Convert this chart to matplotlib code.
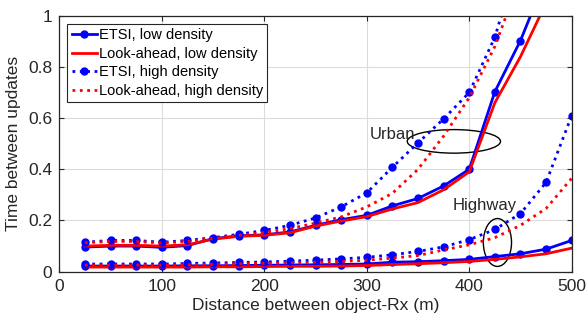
import numpy as np
import matplotlib.pyplot as plt
from matplotlib.patches import Ellipse

plt.rcParams['font.family'] = ['Liberation Sans', 'DejaVu Sans']

dist = [25, 50, 75, 100, 125, 150, 175, 200, 225, 250,
        275, 300, 325, 350, 375, 400, 425, 450, 475, 500]

# urban
etsi_low_u = [0.096, 0.100, 0.100, 0.095, 0.102, 0.129, 0.140, 0.144, 0.155, 0.181,
              0.203, 0.220, 0.257, 0.286, 0.335, 0.400, 0.703, 0.903, 1.15, 1.4]
la_low_u = [0.100, 0.103, 0.103, 0.100, 0.105, 0.127, 0.138, 0.142, 0.152, 0.178,
            0.198, 0.215, 0.245, 0.270, 0.320, 0.390, 0.660, 0.840, 1.05, 1.3]
etsi_high_u = [0.115, 0.122, 0.122, 0.115, 0.122, 0.133, 0.146, 0.161, 0.181, 0.210,
               0.253, 0.308, 0.408, 0.503, 0.597, 0.700, 0.916, 1.25, 1.6, 2.0]
la_high_u = [0.113, 0.118, 0.118, 0.112, 0.118, 0.130, 0.142, 0.153, 0.168, 0.190,
             0.214, 0.253, 0.306, 0.400, 0.530, 0.680, 0.880, 1.15, 1.5, 1.9]

# highway
etsi_low_h = [0.022, 0.022, 0.022, 0.022, 0.023, 0.023, 0.024, 0.025, 0.026, 0.027,
              0.028, 0.030, 0.037, 0.039, 0.043, 0.048, 0.059, 0.070, 0.088, 0.122]
la_low_h = [0.018, 0.018, 0.018, 0.018, 0.018, 0.019, 0.019, 0.020, 0.021, 0.021,
            0.022, 0.024, 0.028, 0.031, 0.035, 0.040, 0.048, 0.058, 0.070, 0.092]
etsi_high_h = [0.030, 0.030, 0.030, 0.030, 0.032, 0.034, 0.036, 0.038, 0.041, 0.045,
               0.050, 0.056, 0.066, 0.079, 0.097, 0.125, 0.165, 0.227, 0.349, 0.610]
la_high_h = [0.026, 0.026, 0.026, 0.026, 0.027, 0.029, 0.031, 0.033, 0.035, 0.037,
             0.040, 0.045, 0.053, 0.063, 0.085, 0.105, 0.133, 0.181, 0.247, 0.365]

fig = plt.figure(figsize=(5.87, 3.2), dpi=100)
ax = fig.add_axes([0.101, 0.151, 0.873, 0.800])

lw = 2
ms = 5
ax.plot(dist, etsi_low_u, '-', color='blue', lw=lw, marker='o', ms=ms, label='ETSI, low density')
ax.plot(dist, la_low_u, '-', color='red', lw=lw, label='Look-ahead, low density')
ax.plot(dist, etsi_high_u, ':', color='blue', lw=lw, marker='o', ms=ms, label='ETSI, high density')
ax.plot(dist, la_high_u, ':', color='red', lw=lw, label='Look-ahead, high density')

ax.plot(dist, etsi_low_h, '-', color='blue', lw=lw, marker='o', ms=ms)
ax.plot(dist, la_low_h, '-', color='red', lw=lw)
ax.plot(dist, etsi_high_h, ':', color='blue', lw=lw, marker='o', ms=ms)
ax.plot(dist, la_high_h, ':', color='red', lw=lw)

ax.add_patch(Ellipse((385, 0.509), 91, 0.092, fill=False, color='black', lw=1))
ax.add_patch(Ellipse((427.5, 0.114), 27.5, 0.187, fill=False, color='black', lw=1))
ax.text(325, 0.535, 'Urban', fontsize=12, ha='center', va='center', color='#262626')
ax.text(415, 0.258, 'Highway', fontsize=12, ha='center', va='center', color='#262626')

ax.set_xlim(0, 500)
ax.set_ylim(0, 1)
ax.set_xticks([0, 100, 200, 300, 400, 500])
ax.set_yticks([0, 0.2, 0.4, 0.6, 0.8, 1])
ax.set_yticklabels(['0', '0.2', '0.4', '0.6', '0.8', '1'])
ax.tick_params(direction='in', top=True, right=True, labelsize=12.5,
               labelcolor='#262626', color='#262626', pad=5)
for s in ax.spines.values():
    s.set_color('#262626')
    s.set_linewidth(0.9)
ax.grid(True, color='#dcdcdc', lw=0.8)
ax.set_axisbelow(True)
ax.set_xlabel('Distance between object-Rx (m)', fontsize=12.5, labelpad=3, color='#262626')
ax.set_ylabel('Time between updates', fontsize=12.5, labelpad=5, color='#262626')

leg = ax.legend(loc='upper left', fontsize=10.5, handlelength=1.7, handletextpad=0.15,
                borderpad=0.3, labelspacing=0.32, borderaxespad=0.0,
                bbox_to_anchor=(0.016, 0.969),
                fancybox=False, framealpha=1, edgecolor='#262626')
leg.get_frame().set_linewidth(0.8)

fig.savefig('out.png', dpi=100)
